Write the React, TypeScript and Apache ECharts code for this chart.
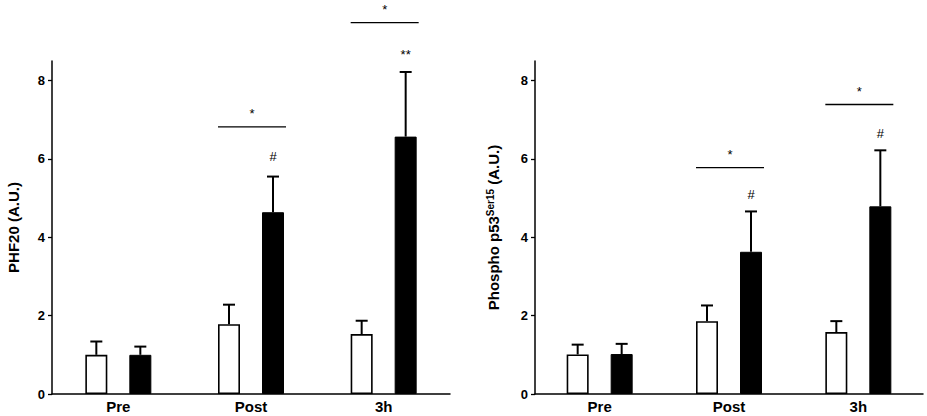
import React, { useEffect, useRef } from "react";
import * as echarts from "echarts";

const categories = ["Pre", "Post", "3h"];

// PHF20 (A.U.)
const phf20Control = [1.0, 1.78, 1.53];
const phf20ControlSem = [0.34, 0.5, 0.34];
const phf20Treated = [1.0, 4.64, 6.57];
const phf20TreatedSem = [0.21, 0.91, 1.65];
const phf20Brackets = [null, 6.82, 9.48];
const phf20Marks = ["", "#", "**"];

// Phospho p53 Ser15 (A.U.)
const p53Control = [1.01, 1.86, 1.58];
const p53ControlSem = [0.25, 0.4, 0.28];
const p53Treated = [1.02, 3.63, 4.79];
const p53TreatedSem = [0.26, 1.03, 1.43];
const p53Brackets = [null, 5.78, 7.39];
const p53Marks = ["", "#", "#"];

const yTicks = [0, 2, 4, 6, 8];

const FONT = "'Liberation Sans', Arial, Helvetica, sans-serif";
const BAR_OFFSET = 22;

function errorSeries(gi: number, values: number[], sems: number[], offset: number) {
  return {
    type: "custom",
    xAxisIndex: gi,
    yAxisIndex: gi,
    clip: false,
    z: 5,
    encode: { x: 0, y: 1 },
    data: values.map((v, i) => [i, v, sems[i]]),
    renderItem: (params: any, api: any) => {
      const i = api.value(0);
      const v = api.value(1);
      const e = api.value(2);
      const p0 = api.coord([i, v]);
      const p1 = api.coord([i, v + e]);
      const cx = p0[0] + offset;
      return {
        type: "group",
        children: [
          { type: "line", shape: { x1: cx, y1: p0[1], x2: cx, y2: p1[1] }, style: { stroke: "#000", lineWidth: 2 } },
          { type: "line", shape: { x1: cx - 6, y1: p1[1], x2: cx + 6, y2: p1[1] }, style: { stroke: "#000", lineWidth: 2 } },
        ],
      };
    },
  };
}

function bracketSeries(gi: number, levels: (number | null)[]) {
  const data: number[][] = [];
  levels.forEach((l, i) => {
    if (l !== null) data.push([i, l]);
  });
  return {
    type: "custom",
    xAxisIndex: gi,
    yAxisIndex: gi,
    clip: false,
    z: 6,
    encode: { x: 0, y: 1 },
    data,
    renderItem: (params: any, api: any) => {
      const p = api.coord([api.value(0), api.value(1)]);
      return {
        type: "group",
        children: [
          { type: "line", shape: { x1: p[0] - 33, y1: p[1], x2: p[0] + 35, y2: p[1] }, style: { stroke: "#000", lineWidth: 1.3 } },
          {
            type: "text",
            x: p[0] + 1,
            y: p[1] - 13,
            style: { text: "*", fontSize: 13, fontFamily: FONT, fill: "#000", align: "center", verticalAlign: "middle" },
          },
        ],
      };
    },
  };
}

function markSeries(gi: number, values: number[], sems: number[], marks: string[], gap: number) {
  const data: any[] = [];
  marks.forEach((m, i) => {
    if (m) data.push({ value: [i, values[i] + sems[i]], mark: m });
  });
  return {
    type: "custom",
    xAxisIndex: gi,
    yAxisIndex: gi,
    clip: false,
    z: 6,
    encode: { x: 0, y: 1 },
    data,
    renderItem: (params: any, api: any) => {
      const p = api.coord([api.value(0), api.value(1)]);
      const m = data[params.dataIndex].mark;
      const dy = m === "#" ? gap : gap - 3;
      return {
        type: "text",
        x: p[0] + BAR_OFFSET,
        y: p[1] - dy,
        style: { text: m, fontSize: 13, fontFamily: FONT, fill: "#000", align: "center", verticalAlign: "middle" },
      };
    },
  };
}

function xAxis(gi: number) {
  return {
    type: "category",
    gridIndex: gi,
    data: categories,
    axisLine: { lineStyle: { color: "#000", width: 1.5 } },
    axisTick: { alignWithLabel: true, length: 4, lineStyle: { color: "#000", width: 1.3 } },
    axisLabel: { color: "#000", fontFamily: FONT, fontWeight: "bold", fontSize: 15, margin: 5 },
  };
}

function yAxis(gi: number, name: string, nameGap: number, rich?: any) {
  return {
    type: "value",
    gridIndex: gi,
    min: 0,
    max: 8.5,
    name,
    nameLocation: "middle",
    nameGap,
    nameTextStyle: { color: "#000", fontFamily: FONT, fontWeight: "bold", fontSize: 15, rich },
    splitLine: { show: false },
    axisLine: { show: true, lineStyle: { color: "#000", width: 1.5 } },
    axisTick: { show: true, length: 4, customValues: yTicks, lineStyle: { color: "#000", width: 1.3 } },
    axisLabel: { color: "#000", fontFamily: FONT, fontWeight: "bold", fontSize: 13, margin: 7, customValues: yTicks },
  };
}

function barPair(gi: number, control: number[], treated: number[]) {
  return [
    {
      type: "bar",
      xAxisIndex: gi,
      yAxisIndex: gi,
      data: control,
      barWidth: 22,
      barGap: "100%",
      itemStyle: { color: "#fff", borderColor: "#000", borderWidth: 1.6 },
    },
    {
      type: "bar",
      xAxisIndex: gi,
      yAxisIndex: gi,
      data: treated,
      barWidth: 22,
      barGap: "100%",
      itemStyle: { color: "#000", borderColor: "#000", borderWidth: 1 },
    },
  ];
}

export default function App() {
  const ref = useRef<HTMLDivElement>(null);
  useEffect(() => {
    if (!ref.current) return;
    const chart = echarts.init(ref.current, null, { renderer: "svg" });
    chart.setOption({
      animation: false,
      backgroundColor: "#fff",
      textStyle: { fontFamily: FONT },
      grid: [
        { left: 52, width: 398, top: 61, height: 333 },
        { left: 535, width: 388, top: 61, height: 333 },
      ],
      xAxis: [xAxis(0), xAxis(1)],
      yAxis: [
        yAxis(0, "PHF20 (A.U.)", 31),
        yAxis(1, "{b|Phospho p53}{s|Ser15}{b| (A.U.)}", 34, {
          b: { fontFamily: FONT, fontWeight: "bold", fontSize: 15, color: "#000", lineHeight: 18, verticalAlign: "bottom" },
          s: { fontFamily: FONT, fontWeight: "bold", fontSize: 10, color: "#000", lineHeight: 12, verticalAlign: "bottom", padding: [0, 0, 6, 0] },
        }),
      ],
      series: [
        ...barPair(0, phf20Control, phf20Treated),
        errorSeries(0, phf20Control, phf20ControlSem, -BAR_OFFSET),
        errorSeries(0, phf20Treated, phf20TreatedSem, BAR_OFFSET),
        bracketSeries(0, phf20Brackets),
        markSeries(0, phf20Treated, phf20TreatedSem, phf20Marks, 20),
        ...barPair(1, p53Control, p53Treated),
        errorSeries(1, p53Control, p53ControlSem, -BAR_OFFSET),
        errorSeries(1, p53Treated, p53TreatedSem, BAR_OFFSET),
        bracketSeries(1, p53Brackets),
        markSeries(1, p53Treated, p53TreatedSem, p53Marks, 17),
      ],
    });
    return () => chart.dispose();
  }, []);
  return <div ref={ref} style={{ position: "fixed", left: 0, top: 0, width: 927, height: 416 }} />;
}
